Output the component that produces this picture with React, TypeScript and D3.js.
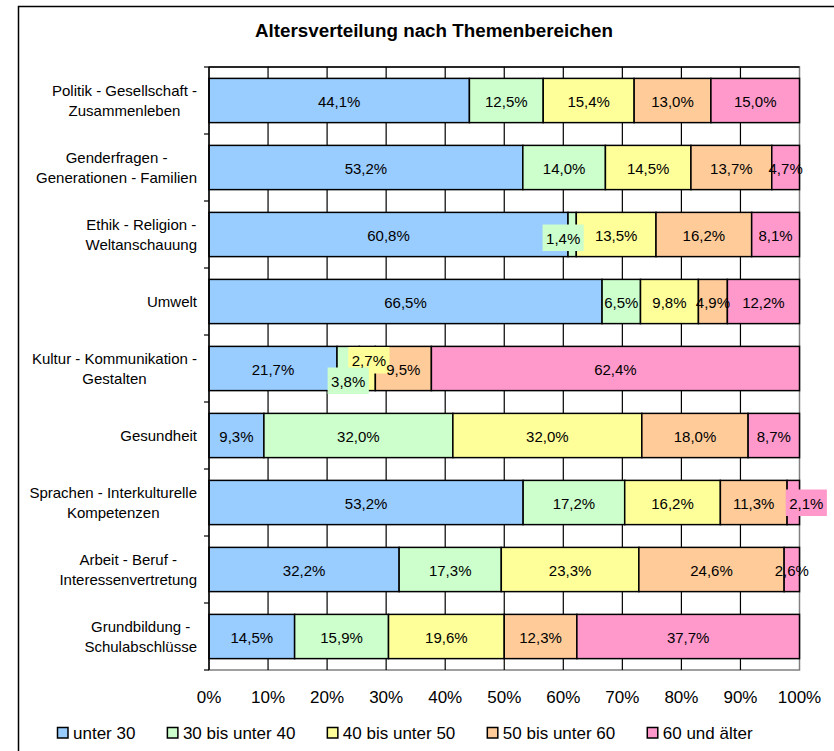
import React from 'react';
import * as d3 from 'd3';

const categoryLines: string[][] = [
  ['Politik - Gesellschaft -', 'Zusammenleben'],
  ['Genderfragen -', 'Generationen - Familien'],
  ['Ethik - Religion -', 'Weltanschauung'],
  ['Umwelt'],
  ['Kultur - Kommunikation -', 'Gestalten'],
  ['Gesundheit'],
  ['Sprachen - Interkulturelle', 'Kompetenzen'],
  ['Arbeit - Beruf -', 'Interessenvertretung'],
  ['Grundbildung -', 'Schulabschlüsse'],
];
const categories = categoryLines.map((l) => l.join(' '));

const seriesNames = ['unter 30', '30 bis unter 40', '40 bis unter 50', '50 bis unter 60', '60 und älter'];
const seriesColors = ['#99CCFF', '#CCFFCC', '#FFFF99', '#FFCC99', '#FF99CC'];

const under30 = [44.1, 53.2, 60.8, 66.5, 21.7, 9.3, 53.2, 32.2, 14.5];
const from30 = [12.5, 14.0, 1.4, 6.5, 3.8, 32.0, 17.2, 17.3, 15.9];
const from40 = [15.4, 14.5, 13.5, 9.8, 2.7, 32.0, 16.2, 23.3, 19.6];
const from50 = [13.0, 13.7, 16.2, 4.9, 9.5, 18.0, 11.3, 24.6, 12.3];
const over60 = [15.0, 4.7, 8.1, 12.2, 62.4, 8.7, 2.1, 2.6, 37.7];
const seriesValues = [under30, from30, from40, from50, over60];

const xTicks = [0, 0.1, 0.2, 0.3, 0.4, 0.5, 0.6, 0.7, 0.8, 0.9, 1.0];

// labels that Excel moved off-centre and drew with a filled background
const labelShifts = [
  { cat: 2, series: 1, dx: -9, dy: 3 },
  { cat: 4, series: 2, dx: 1.5, dy: -8.5 },
  { cat: 4, series: 1, dx: 0, dy: 12 },
  { cat: 6, series: 4, dx: 13, dy: 0 },
];

const FONT = '"Liberation Sans", Arial, Helvetica, sans-serif';

let ctx: CanvasRenderingContext2D | null = null;
function textWidth(s: string, size: number, bold = false): number {
  if (!ctx) ctx = document.createElement('canvas').getContext('2d');
  if (!ctx) return s.length * size * 0.55;
  ctx.font = `${bold ? 'bold ' : ''}${size}px "Liberation Sans", Arial, sans-serif`;
  return ctx.measureText(s).width;
}

const fmt = (v: number) => v.toFixed(1).replace('.', ',') + '%';

export default function App() {
  const W = 834;
  const H = 751;
  const left = 209;
  const right = 799.5;
  const top = 67;
  const bottom = 670;

  const rows = categories.map((c, i) => {
    const r: any = { cat: c };
    seriesNames.forEach((s, j) => (r[s] = seriesValues[j][i]));
    return r;
  });
  const stack = d3.stack<any>().keys(seriesNames).offset(d3.stackOffsetExpand)(rows);

  const x = d3.scaleLinear().domain([0, 1]).range([left, right]);
  const y = d3
    .scaleBand<string>()
    .domain(categories)
    .range([top, bottom])
    .paddingInner(0.34)
    .paddingOuter(0.17);
  const step = y.step();
  const boundaries = d3.range(categories.length + 1).map((i) => top + i * step);

  const labelRight = 197;

  const legendFont = 17;
  let lx = 57;
  const legendItems = seriesNames.map((s, i) => {
    const item = { name: s, color: seriesColors[i], x: lx };
    lx += 16 + textWidth(s, legendFont) + 31.5;
    return item;
  });

  const shifted = (ci: number, si: number) => labelShifts.find((l) => l.cat === ci && l.series === si);

  return (
    <svg
      width={W}
      height={H}
      style={{ position: 'absolute', left: 0, top: 0, background: '#fff' }}
      fontFamily={FONT}
    >
      <rect x={0} y={0} width={W} height={H} fill="#fff" />
      <rect x={18.5} y={6.5} width={W + 50} height={H + 50} fill="none" stroke="#000" strokeWidth={1.5} />
      <text x={434} y={36.5} textAnchor="middle" fontWeight="bold" fontSize={18.8}>
        Altersverteilung nach Themenbereichen
      </text>

      {/* plot area */}
      <rect x={left} y={top} width={right - left} height={bottom - top} fill="#fff" stroke="#808080" strokeWidth={1.5} />
      {xTicks.slice(1, -1).map((t) => (
        <line key={t} x1={x(t)} x2={x(t)} y1={top} y2={bottom} stroke="#000" strokeWidth={1.2} />
      ))}
      <line x1={left} x2={right} y1={top} y2={top} stroke="#000" strokeWidth={1.5} />

      {/* bars */}
      {stack.map((layer, si) =>
        layer.map((d, ci) => (
          <rect
            key={`${si}-${ci}`}
            x={x(d[0])}
            y={y(categories[ci])}
            width={x(d[1]) - x(d[0])}
            height={y.bandwidth()}
            fill={seriesColors[si]}
            stroke="#000"
            strokeWidth={1.5}
          />
        ))
      )}

      {/* y axis */}
      <line x1={left} x2={left} y1={top} y2={bottom} stroke="#000" strokeWidth={1.5} />
      {boundaries.map((b, i) => (
        <line key={i} x1={left - 5} x2={left} y1={b} y2={b} stroke="#000" strokeWidth={1.2} />
      ))}

      {/* category labels */}
      {categoryLines.map((lines, ci) => {
        const cy = (y(categories[ci]) as number) + y.bandwidth() / 2;
        const maxW = Math.max(...lines.map((l) => textWidth(l, 15)));
        const cx = labelRight - maxW / 2;
        const lh = 19.5;
        const y0 = cy - ((lines.length - 1) * lh) / 2 + 5.5;
        return (
          <text key={ci} fontSize={15} textAnchor="middle" fill="#000">
            {lines.map((l, k) => (
              <tspan key={k} x={cx} y={y0 + k * lh}>
                {l}
              </tspan>
            ))}
          </text>
        );
      })}

      {/* background boxes of moved labels */}
      {labelShifts.map((s, k) => {
        const d = stack[s.series][s.cat];
        const cx = (x(d[0]) + x(d[1])) / 2 + s.dx;
        const cy = (y(categories[s.cat]) as number) + y.bandwidth() / 2 + s.dy;
        const label = fmt(seriesValues[s.series][s.cat]);
        const w = textWidth(label, 15) + 7;
        return <rect key={`b${k}`} x={cx - w / 2} y={cy - 13} width={w} height={26.5} fill={seriesColors[s.series]} />;
      })}

      {/* value labels */}
      {stack.map((layer, si) =>
        layer.map((d, ci) => {
          const s = shifted(ci, si);
          const cx = (x(d[0]) + x(d[1])) / 2 + (s ? s.dx : 0);
          const cy = (y(categories[ci]) as number) + y.bandwidth() / 2 + (s ? s.dy : 0);
          return (
            <text key={`l${si}-${ci}`} x={cx} y={cy + 6} textAnchor="middle" fontSize={15} fill="#000">
              {fmt(seriesValues[si][ci])}
            </text>
          );
        })
      )}

      {/* x axis labels */}
      {xTicks.map((t) => (
        <text key={t} x={x(t)} y={703} textAnchor="middle" fontSize={17} fill="#000">
          {Math.round(t * 100) + '%'}
        </text>
      ))}

      {/* legend */}
      {legendItems.map((it) => (
        <g key={it.name}>
          <rect x={it.x + 0.5} y={727.5} width={10.5} height={10.5} fill={it.color} stroke="#000" strokeWidth={1.5} />
          <text x={it.x + 16} y={739} fontSize={legendFont} fill="#000">
            {it.name}
          </text>
        </g>
      ))}
    </svg>
  );
}
